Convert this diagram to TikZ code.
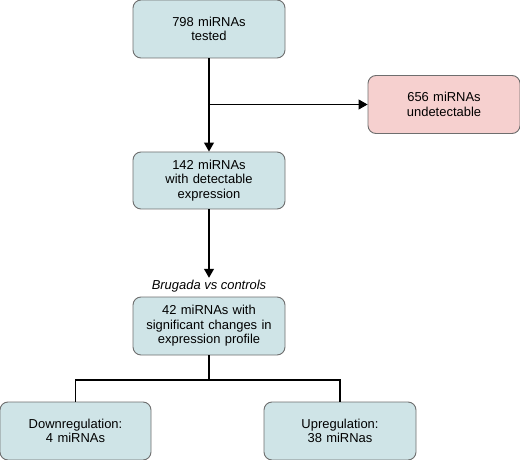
\documentclass[tikz,border=0pt]{standalone}
\usepackage{fontspec}
\setmainfont{Liberation Sans}
\usetikzlibrary{arrows.meta}
\definecolor{boxblue}{HTML}{CFE4E7}
\definecolor{boxred}{HTML}{F6D0CF}
\definecolor{boxline}{HTML}{6E6E6E}

\begin{document}
\begin{tikzpicture}[x=1bp, y=-1bp,
        box/.style={draw=boxline, line width=0.9bp, rounded corners=8bp, fill=boxblue,
            minimum width=152bp, minimum height=58bp, text width=140bp, align=center,
            inner sep=2bp, font=\fontsize{13}{14.6}\selectfont},
        redbox/.style={box, fill=boxred},
        link/.style={line width=1.1bp, black},
        arrow/.style={link, -{Triangle[width=10bp, length=9bp]}}]
    \useasboundingbox (0,0) rectangle (520,460);

    \node[box] (tested) at (209, 29) {798 miRNAs\\tested};
    \node[redbox] (undet) at (444, 104.5) {656 miRNAs\\undetectable};
    \node[box, minimum height=57bp] (detect) at (209, 180.5) {142 miRNAs\\with detectable\\expression};
    \node[font=\fontsize{13}{15}\selectfont\itshape, inner sep=2bp] (compare) at (209, 286) {Brugada vs controls};
    \node[box] (signif) at (209, 326) {42 miRNAs with\\significant changes in\\expression profile};
    \node[box, minimum width=151bp] (down) at (75.5, 431) {Downregulation:\\4 miRNAs};
    \node[box] (up) at (340, 431) {Upregulation:\\38 miRNas};

    \coordinate (split) at (209, 104.5);
    \coordinate (fork) at (209, 380);

    \draw[arrow] (tested) -- (detect);
    \draw[arrow] (split) -- (undet);
    \draw[arrow] (detect) -- (compare);
    \draw[link] (signif) -- (fork);
    \draw[link] (down) |- (fork) -| (up);
\end{tikzpicture}
\end{document}
